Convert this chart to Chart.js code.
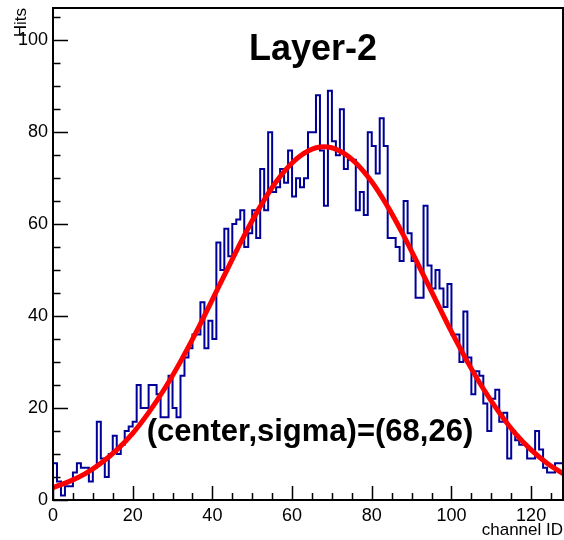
<!DOCTYPE html>
<html>
<head>
<meta charset="utf-8">
<script src="https://cdn.jsdelivr.net/npm/chart.js@4.4.1/dist/chart.umd.min.js"></script>
<style>
  html, body { margin: 0; padding: 0; background: #fff; }
  #wrap { width: 564px; height: 540px; }
</style>
</head>
<body>
<div id="wrap"><canvas id="chart" width="564" height="540"></canvas></div>
<script>
// hits per channel, channels 0..127 (one bin per channel)
const hits = [
  8, 4, 1, 3, 3, 6, 8, 7, 7, 4, 7, 17, 9, 5, 10, 14, 10, 12, 15, 16, 17,
  25, 20, 20, 25, 25, 23, 18, 18, 27, 20, 18, 27, 31, 33, 36, 36, 43, 33, 39, 35, 56,
  50, 59, 53, 60, 61, 63, 55, 58, 63, 57, 72, 63, 80, 67, 68, 72, 69, 76, 66, 70, 68,
  70, 80, 80, 88, 76, 64, 89, 78, 75, 85, 72, 74, 74, 63, 67, 62, 80, 77, 71, 83, 77,
  57, 57, 55, 52, 65, 58, 52, 44, 44, 64, 51, 46, 50, 46, 42, 47, 36, 36, 30, 41, 31,
  23, 28, 27, 21, 15, 22, 24, 17, 19, 9, 15, 13, 12, 12, 9, 9, 15, 11, 7, 6, 6, 8, 8
];

// gaussian fit curve (center 68, sigma 26)
const fitX = [0, 4, 8, 12, 16, 20, 24, 28, 32, 36, 40, 44, 48, 52, 56, 60, 64,
  68, 72, 76, 80, 84, 88, 92, 96, 100, 104, 108, 112, 116, 120, 124, 128];
const fitY = [2.7, 4.0, 5.7, 8.0, 10.9, 14.5, 19.0, 24.2, 30.1, 36.6, 43.6, 50.6, 57.5, 63.8, 69.2, 73.3, 75.9,
  76.8, 75.9, 73.3, 69.2, 63.8, 57.5, 50.6, 43.6, 36.6, 30.1, 24.2, 19.0, 14.5, 10.9, 8.0, 5.7];

const xTicks = [0, 20, 40, 60, 80, 100, 120];
const yTicks = [0, 20, 40, 60, 80, 100];

const title = 'Layer-2';
const fitLabel = '(center,sigma)=(68,26)';
const xTitle = 'channel ID';
const yTitle = 'Hits';

const FONT = "'Liberation Sans', Arial, Helvetica, sans-serif";

// histogram: each bin starts at its channel, last edge closes at 128
const histPoints = hits.map((v, i) => ({ x: i, y: v }));
histPoints.push({ x: hits.length, y: hits[hits.length - 1] });

const fitPoints = fitX.map((x, i) => ({ x: x, y: fitY[i] }));

// frame box, inward ticks and the texts (ROOT look)
const rootFrame = {
  id: 'rootFrame',
  afterDatasetsDraw(chart) {
    const { ctx, chartArea: a, scales: { x, y } } = chart;
    ctx.save();
    ctx.strokeStyle = '#000';
    ctx.lineWidth = 2;
    ctx.strokeRect(a.left, a.top, a.right - a.left, a.bottom - a.top);

    ctx.beginPath();
    for (let v = 0; v <= y.max; v += 5) {
      const py = Math.round(y.getPixelForValue(v)) + 0.5;
      const len = v % 20 === 0 ? 15 : 7.5;
      ctx.moveTo(a.left, py);
      ctx.lineTo(a.left + len, py);
    }
    for (let v = 0; v <= x.max; v += 5) {
      const px = Math.round(x.getPixelForValue(v)) + 0.5;
      const len = v % 20 === 0 ? 14 : 7;
      ctx.moveTo(px, a.bottom);
      ctx.lineTo(px, a.bottom - len);
    }
    ctx.lineWidth = 1.5;
    ctx.stroke();

    ctx.fillStyle = '#000';
    ctx.font = 'bold 36px ' + FONT;
    ctx.textAlign = 'center';
    ctx.textBaseline = 'middle';
    ctx.fillText(title, 313, 50);

    ctx.font = 'bold 31px ' + FONT;
    ctx.fillText(fitLabel, 310, 432);

    ctx.font = '17px ' + FONT;
    ctx.textAlign = 'right';
    ctx.fillText(xTitle, 563, 530);

    ctx.translate(21, 8);
    ctx.rotate(-Math.PI / 2);
    ctx.textAlign = 'right';
    ctx.fillText(yTitle, 0, 0);
    ctx.restore();
  }
};

new Chart(document.getElementById('chart'), {
  type: 'line',
  data: {
    datasets: [
      {
        label: 'fit',
        data: fitPoints,
        borderColor: '#ff0000',
        borderWidth: 5,
        pointRadius: 0,
        tension: 0.4,
        fill: false
      },
      {
        label: 'hits',
        data: histPoints,
        borderColor: '#000099',
        borderWidth: 2,
        pointRadius: 0,
        stepped: 'before',
        fill: false
      }
    ]
  },
  options: {
    responsive: false,
    animation: false,
    devicePixelRatio: 1,
    layout: { padding: { top: 8, right: 1, left: 0, bottom: 0 } },
    plugins: {
      legend: { display: false },
      tooltip: { enabled: false },
      title: { display: false }
    },
    scales: {
      x: {
        type: 'linear',
        min: 0,
        max: 128,
        grid: { display: false, drawTicks: false },
        border: { display: false },
        ticks: {
          stepSize: 20,
          includeBounds: false,
          maxRotation: 0,
          autoSkip: false,
          padding: 5,
          color: '#000',
          font: { family: FONT, size: 18 },
          callback: v => (xTicks.includes(v) ? String(v) : '')
        },
        afterFit: s => { s.height = 40; s.paddingLeft = 0; s.paddingRight = 0; }
      },
      y: {
        type: 'linear',
        min: 0,
        max: 107,
        grid: { display: false, drawTicks: false },
        border: { display: false },
        ticks: {
          stepSize: 20,
          includeBounds: false,
          autoSkip: false,
          padding: 5,
          color: '#000',
          font: { family: FONT, size: 18 },
          callback: v => (yTicks.includes(v) ? String(v) : '')
        },
        afterFit: s => { s.width = 53; s.paddingTop = 0; s.paddingBottom = 0; }
      }
    }
  },
  plugins: [rootFrame]
});
</script>
</body>
</html>
